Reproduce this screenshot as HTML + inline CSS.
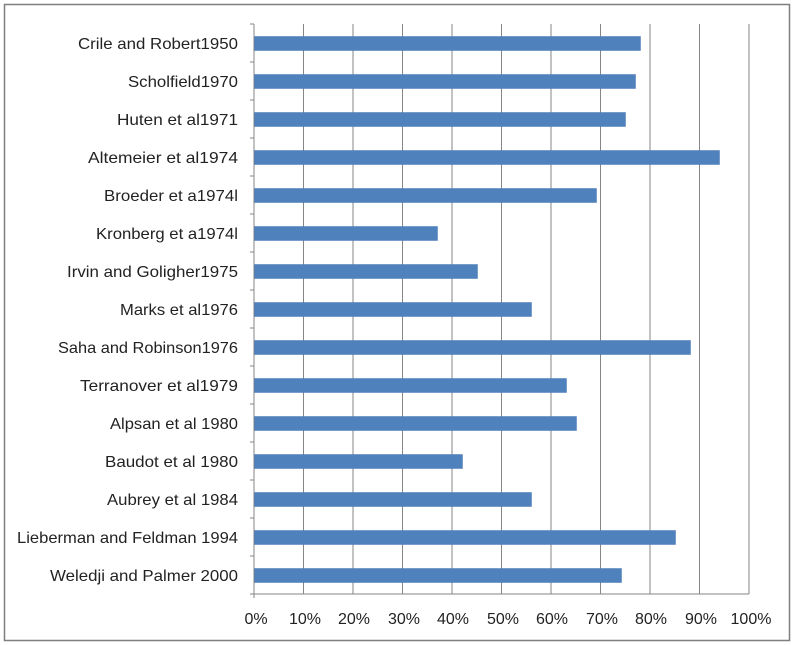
<!DOCTYPE html>
<html><head><meta charset="utf-8"><style>
html,body{margin:0;padding:0;background:#fff;}
svg{display:block;font-family:"Liberation Sans",sans-serif;}
</style></head><body>
<svg width="795" height="645" viewBox="0 0 795 645" xmlns="http://www.w3.org/2000/svg">
<rect x="4.5" y="4.5" width="785" height="636" fill="#fff" stroke="#7f7f7f" stroke-width="1.5"/>
<g stroke="#868686" stroke-width="1">
<line x1="303.5" y1="24" x2="303.5" y2="594"/>
<line x1="353" y1="24" x2="353" y2="594"/>
<line x1="402.5" y1="24" x2="402.5" y2="594"/>
<line x1="452" y1="24" x2="452" y2="594"/>
<line x1="501.5" y1="24" x2="501.5" y2="594"/>
<line x1="551" y1="24" x2="551" y2="594"/>
<line x1="600.5" y1="24" x2="600.5" y2="594"/>
<line x1="650" y1="24" x2="650" y2="594"/>
<line x1="699.5" y1="24" x2="699.5" y2="594"/>
<line x1="749" y1="24" x2="749" y2="594"/>
<line x1="254" y1="24" x2="254" y2="598"/>
<line x1="250" y1="594" x2="749" y2="594"/>
</g>
<g stroke="#868686">
<line x1="250" y1="24" x2="254" y2="24"/><line x1="250" y1="62" x2="254" y2="62"/><line x1="250" y1="100" x2="254" y2="100"/><line x1="250" y1="138" x2="254" y2="138"/><line x1="250" y1="176" x2="254" y2="176"/><line x1="250" y1="214" x2="254" y2="214"/><line x1="250" y1="252" x2="254" y2="252"/><line x1="250" y1="290" x2="254" y2="290"/><line x1="250" y1="328" x2="254" y2="328"/><line x1="250" y1="366" x2="254" y2="366"/><line x1="250" y1="404" x2="254" y2="404"/><line x1="250" y1="442" x2="254" y2="442"/><line x1="250" y1="480" x2="254" y2="480"/><line x1="250" y1="518" x2="254" y2="518"/><line x1="250" y1="556" x2="254" y2="556"/>
</g>
<g fill="#4f81bd" stroke="#4a7ab5" stroke-width="0.5">
<rect x="254.5" y="36.5" width="386" height="14"/>
<rect x="254.5" y="74.5" width="381" height="14"/>
<rect x="254.5" y="112.5" width="371" height="14"/>
<rect x="254.5" y="150.5" width="465" height="14"/>
<rect x="254.5" y="188.5" width="342" height="14"/>
<rect x="254.5" y="226.5" width="183" height="14"/>
<rect x="254.5" y="264.5" width="223" height="14"/>
<rect x="254.5" y="302.5" width="277" height="14"/>
<rect x="254.5" y="340.5" width="436" height="14"/>
<rect x="254.5" y="378.5" width="312" height="14"/>
<rect x="254.5" y="416.5" width="322" height="14"/>
<rect x="254.5" y="454.5" width="208" height="14"/>
<rect x="254.5" y="492.5" width="277" height="14"/>
<rect x="254.5" y="530.5" width="421" height="14"/>
<rect x="254.5" y="568.5" width="367" height="14"/>
</g>
<g font-size="16" fill="#222" text-anchor="end">
<text x="238" y="49" textLength="160" lengthAdjust="spacingAndGlyphs">Crile and Robert1950</text>
<text x="238" y="87" textLength="110" lengthAdjust="spacingAndGlyphs">Scholfield1970</text>
<text x="238" y="125" textLength="121" lengthAdjust="spacingAndGlyphs">Huten et al1971</text>
<text x="238" y="163" textLength="150" lengthAdjust="spacingAndGlyphs">Altemeier et al1974</text>
<text x="238" y="201" textLength="134" lengthAdjust="spacingAndGlyphs">Broeder et a1974l</text>
<text x="238" y="239" textLength="142" lengthAdjust="spacingAndGlyphs">Kronberg et a1974l</text>
<text x="238" y="277" textLength="171" lengthAdjust="spacingAndGlyphs">Irvin and Goligher1975</text>
<text x="238" y="315" textLength="118" lengthAdjust="spacingAndGlyphs">Marks et al1976</text>
<text x="238" y="353" textLength="180" lengthAdjust="spacingAndGlyphs">Saha and Robinson1976</text>
<text x="238" y="391" textLength="158" lengthAdjust="spacingAndGlyphs">Terranover et al1979</text>
<text x="238" y="429" textLength="128" lengthAdjust="spacingAndGlyphs">Alpsan et al 1980</text>
<text x="238" y="467" textLength="133" lengthAdjust="spacingAndGlyphs">Baudot et al 1980</text>
<text x="238" y="505" textLength="131" lengthAdjust="spacingAndGlyphs">Aubrey et al 1984</text>
<text x="238" y="543" textLength="221" lengthAdjust="spacingAndGlyphs">Lieberman and Feldman 1994</text>
<text x="238" y="581" textLength="188" lengthAdjust="spacingAndGlyphs">Weledji and Palmer 2000</text>
</g>
<g font-size="16" fill="#222" text-anchor="middle">
<text x="256" y="624">0%</text><text x="305" y="624">10%</text><text x="354" y="624">20%</text><text x="404" y="624">30%</text><text x="453" y="624">40%</text><text x="503" y="624">50%</text><text x="552" y="624">60%</text><text x="602" y="624">70%</text><text x="651" y="624">80%</text><text x="701" y="624">90%</text><text x="751" y="624">100%</text>
</g>
</svg>
</body></html>
